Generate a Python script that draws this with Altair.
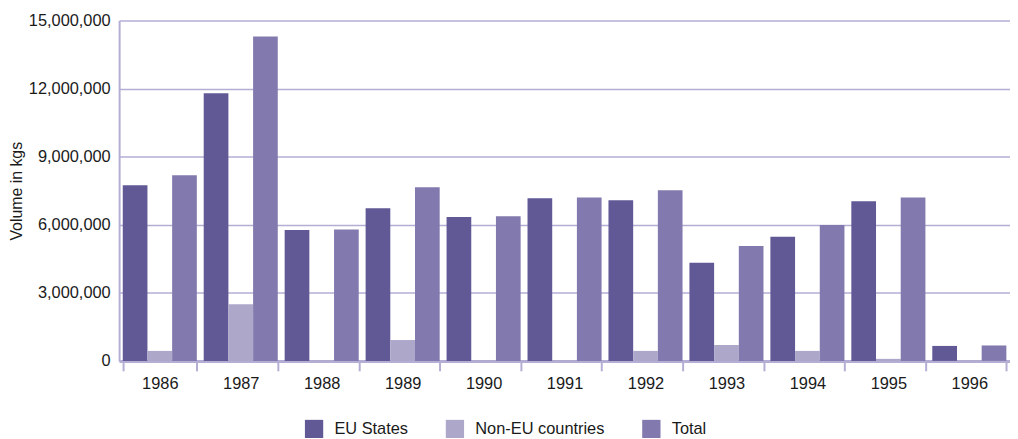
import altair as alt
import pandas as pd

years = ["1986", "1987", "1988", "1989", "1990", "1991", "1992", "1993", "1994", "1995", "1996"]
series = ["EU States", "Non-EU countries", "Total"]
eu_states = [7740000, 11800000, 5770000, 6730000, 6340000, 7170000, 7080000, 4330000, 5470000, 7040000, 660000]
non_eu = [440000, 2500000, 20000, 920000, 20000, 20000, 440000, 700000, 440000, 90000, 20000]
total = [8180000, 14300000, 5790000, 7650000, 6380000, 7200000, 7520000, 5070000, 5990000, 7200000, 680000]
colors = ["#615896", "#ada7ca", "#827aae"]

rows = []
for i, y in enumerate(years):
    for s, vals in zip(series, [eu_states, non_eu, total]):
        rows.append({"year": y, "series": s, "value": vals[i]})
df = pd.DataFrame(rows)

grid_color = "#b4aed4"
font = "Liberation Sans"
text_color = "#1a1a1a"

chart = alt.Chart(df).mark_bar().encode(
    x=alt.X("year:N", sort=years, title=None,
            scale=alt.Scale(paddingInner=0.085, paddingOuter=0.045),
            axis=alt.Axis(labelAngle=0, tickBand="extent", tickSize=10, tickWidth=2,
                          tickColor=grid_color, domainColor=grid_color, domainWidth=3,
                          labelFontSize=16.5, labelColor=text_color, labelFont=font,
                          labelPadding=5, grid=False)),
    xOffset=alt.XOffset("series:N", sort=series,
                        scale=alt.Scale(paddingInner=0, paddingOuter=0)),
    y=alt.Y("value:Q", title="Volume in kgs",
            scale=alt.Scale(domain=[0, 15000000], nice=False),
            axis=alt.Axis(values=[0, 3000000, 6000000, 9000000, 12000000, 15000000],
                          format=",d", ticks=False, grid=True, gridColor=grid_color,
                          gridWidth=1.5, domainColor=grid_color, domainWidth=2,
                          labelFontSize=16.5, labelColor=text_color, labelFont=font,
                          labelPadding=9, titleFontSize=16, titleFont=font,
                          titleFontWeight="normal", titleColor=text_color, titlePadding=4)),
    color=alt.Color("series:N", sort=series,
                    scale=alt.Scale(domain=series, range=colors),
                    legend=alt.Legend(title=None, orient="none", direction="horizontal",
                                      legendX=187, legendY=402, symbolType="square",
                                      symbolSize=340, symbolStrokeWidth=0, labelFontSize=16.5,
                                      labelFont=font, labelColor=text_color,
                                      columnPadding=37, labelOffset=11)),
).properties(
    width=898, height=343,
    autosize=alt.AutoSizeParams(type="none"),
    padding={"left": 112, "top": 11, "right": 0, "bottom": 76},
).configure_view(stroke=None)

chart.save("out.html", embed_options={"renderer": "svg", "actions": False})
